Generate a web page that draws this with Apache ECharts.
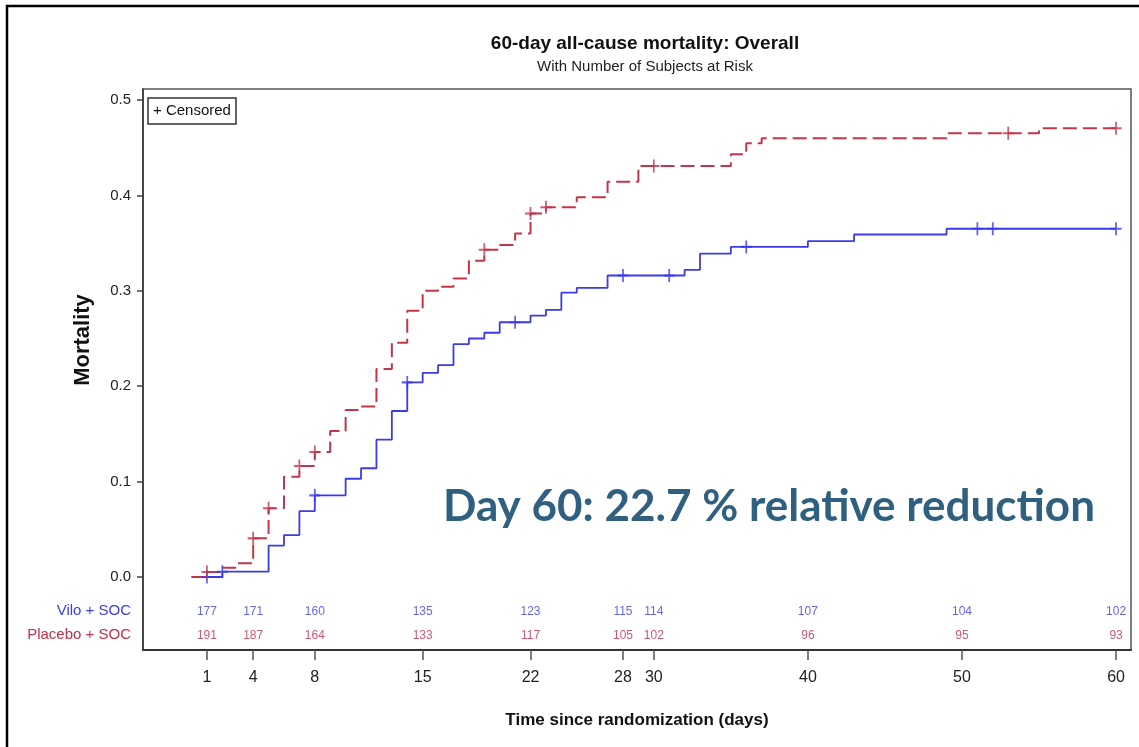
<!DOCTYPE html>
<html>
<head>
<meta charset="utf-8">
<script src="https://cdn.jsdelivr.net/npm/echarts@6/dist/echarts.min.js"></script>
<style>
html,body{margin:0;padding:0;background:#fff;}
#chart{width:1139px;height:747px;}
</style>
</head>
<body>
<div id="chart"></div>
<script>
// ---- data ----
const viloTimes     = [0, 2, 5, 6, 7, 8, 10, 11, 12, 13, 14, 15, 16, 17, 18, 19, 20, 22, 23, 24, 25, 27, 32, 33, 35, 40, 43, 49, 60];
const viloMortality = [0, 0.0056, 0.033, 0.044, 0.069, 0.0856, 0.103, 0.114, 0.144, 0.174, 0.204, 0.214, 0.222, 0.244, 0.250, 0.256, 0.267, 0.274, 0.280, 0.298, 0.303, 0.316, 0.322, 0.339, 0.346, 0.352, 0.359, 0.365, 0.365];
const viloCensored  = [1, 2, 8, 14, 21, 28, 31, 36, 51, 52, 60];

const placeboTimes     = [0, 1, 2, 3, 4, 5, 6, 7, 8, 9, 10, 11, 12, 13, 14, 15, 16, 17, 18, 19, 20, 21, 22, 23, 25, 27, 29, 35, 36, 37, 49, 55, 60];
const placeboMortality = [0, 0.0052, 0.0098, 0.0143, 0.0405, 0.072, 0.105, 0.1163, 0.131, 0.153, 0.175, 0.1786, 0.218, 0.2456, 0.279, 0.300, 0.3043, 0.313, 0.3316, 0.343, 0.348, 0.360, 0.381, 0.3875, 0.398, 0.4144, 0.4308, 0.443, 0.4546, 0.460, 0.4651, 0.4703, 0.4703];
const placeboCensored  = [1, 4, 5, 7, 8, 19, 22, 23, 30, 53, 60];

const xTicks = [1, 4, 8, 15, 22, 28, 30, 40, 50, 60];
const yTicks = [0, 0.1, 0.2, 0.3, 0.4, 0.5];
const viloAtRisk    = [177, 171, 160, 135, 123, 115, 114, 107, 104, 102];
const placeboAtRisk = [191, 187, 164, 133, 117, 105, 102, 96, 95, 93];

const groupNames = ['Vilo + SOC', 'Placebo + SOC'];
const titleText = '60-day all-cause mortality: Overall';
const subtitleText = 'With Number of Subjects at Risk';
const yName = 'Mortality';
const xName = 'Time since randomization (days)';
const annotation = 'Day 60: 22.7 % relative reduction';
const legendText = '+ Censored';

// ---- styles ----
const BLUE = '#3b3bec';
const RED = '#c2364b';
const FONT = "'Liberation Sans', Arial, sans-serif";
const NARROW = "'Liberation Sans Narrow', 'Liberation Sans', Arial, sans-serif";

function stepValue(times, vals, t) {
  let v = vals[0];
  for (let i = 0; i < times.length; i++) { if (times[i] <= t) v = vals[i]; }
  return v;
}
const pair = (ts, vs) => ts.map((t, i) => [t, vs[i]]);
const plusPath = 'path://M4.2,0H5.8V10H4.2Z M0,4.2H10V5.8H0Z';

const ROW_VILO = -0.036, ROW_PLAC = -0.061;

const chart = echarts.init(document.getElementById('chart'), null, {renderer: 'canvas'});
chart.setOption({
  animation: false,
  backgroundColor: '#fff',
  title: {
    text: titleText,
    subtext: subtitleText,
    left: 640, top: 29, textAlign: 'center', itemGap: 6,
    textStyle: {fontFamily: FONT, fontSize: 19, fontWeight: 'bold', color: '#111'},
    subtextStyle: {fontFamily: FONT, fontSize: 15, color: '#222'}
  },
  grid: {left: 143, right: 8, top: 89, bottom: 97, show: true, borderColor: '#555', borderWidth: 1.5, backgroundColor: 'transparent'},
  xAxis: {
    type: 'value', min: -3.15, max: 60.97,
    name: xName, nameLocation: 'middle', nameGap: 62,
    nameTextStyle: {fontFamily: FONT, fontSize: 17, fontWeight: 'bold', color: '#111'},
    axisLine: {show: true, onZero: false, lineStyle: {color: '#333', width: 2}},
    axisTick: {show: true, customValues: xTicks, length: 10, lineStyle: {color: '#555', width: 1.5}},
    axisLabel: {customValues: xTicks, fontFamily: FONT, fontSize: 16, color: '#222', margin: 20},
    splitLine: {show: false}
  },
  yAxis: {
    type: 'value', min: -0.0765, max: 0.5115,
    axisLine: {show: true, onZero: false, lineStyle: {color: '#333', width: 1.5}},
    axisTick: {show: true, customValues: yTicks, length: 6, lineStyle: {color: '#444', width: 1.5}},
    axisLabel: {customValues: yTicks, formatter: v => v.toFixed(1), fontFamily: FONT, fontSize: 15, color: '#222', margin: 12},
    splitLine: {show: false}
  },
  series: [
    {
      name: groupNames[0], type: 'line', step: 'end', showSymbol: false, symbol: 'none',
      data: pair(viloTimes, viloMortality),
      lineStyle: {color: BLUE, width: 1.8}, z: 3
    },
    {
      name: groupNames[1], type: 'line', step: 'end', showSymbol: false, symbol: 'none',
      data: pair(placeboTimes, placeboMortality),
      lineStyle: {color: RED, width: 2, type: [14, 6]}, z: 3
    },
    {
      type: 'scatter', symbol: plusPath, symbolSize: [11, 13],
      itemStyle: {color: BLUE},
      data: viloCensored.map(t => [t, stepValue(viloTimes, viloMortality, t)]), z: 4
    },
    {
      type: 'scatter', symbol: plusPath, symbolSize: [11, 13],
      itemStyle: {color: RED},
      data: placeboCensored.map(t => [t, stepValue(placeboTimes, placeboMortality, t)]), z: 4
    },
    {
      type: 'scatter', symbolSize: 0, silent: true,
      data: xTicks.map((t, i) => [t, ROW_VILO, viloAtRisk[i]]),
      label: {show: true, position: 'inside', formatter: p => p.value[2], fontFamily: NARROW, fontSize: 12, color: '#3d3de6'}
    },
    {
      type: 'scatter', symbolSize: 0, silent: true,
      data: xTicks.map((t, i) => [t, ROW_PLAC, placeboAtRisk[i]]),
      label: {show: true, position: 'inside', formatter: p => p.value[2], fontFamily: NARROW, fontSize: 12, color: '#c0304a'}
    }
  ],
  graphic: [
    {type: 'rect', shape: {x: 7, y: 6, width: 1200, height: 800}, style: {fill: 'none', stroke: '#000', lineWidth: 2.5}, silent: true, z: 0},
    {type: 'rect', shape: {x: 148, y: 98, width: 88, height: 26}, style: {fill: '#fff', stroke: '#333', lineWidth: 1.5}, z: 10},
    {type: 'text', x: 153, y: 111, style: {text: legendText, fontFamily: FONT, fontSize: 15, fill: '#111', textVerticalAlign: 'middle'}, z: 11},
    {type: 'text', x: 131, y: 611, style: {text: groupNames[0], fontFamily: FONT, fontSize: 15, fill: '#3d3de6', textAlign: 'right', textVerticalAlign: 'middle'}},
    {type: 'text', x: 131, y: 635, style: {text: groupNames[1], fontFamily: FONT, fontSize: 15, fill: '#c0304a', textAlign: 'right', textVerticalAlign: 'middle'}},
    {type: 'text', x: 83, y: 340, rotation: Math.PI / 2, style: {text: yName, fontFamily: FONT, fontSize: 22, fontWeight: 'bold', fill: '#111', textAlign: 'center', textVerticalAlign: 'middle'}},
    {type: 'text', x: 443, y: 507, style: {text: annotation, fontFamily: "Lato, 'Open Sans', sans-serif", fontSize: 44, fontWeight: 'bold', fill: '#30607f', textVerticalAlign: 'middle'}, z: 12}
  ]
});
</script>
</body>
</html>
